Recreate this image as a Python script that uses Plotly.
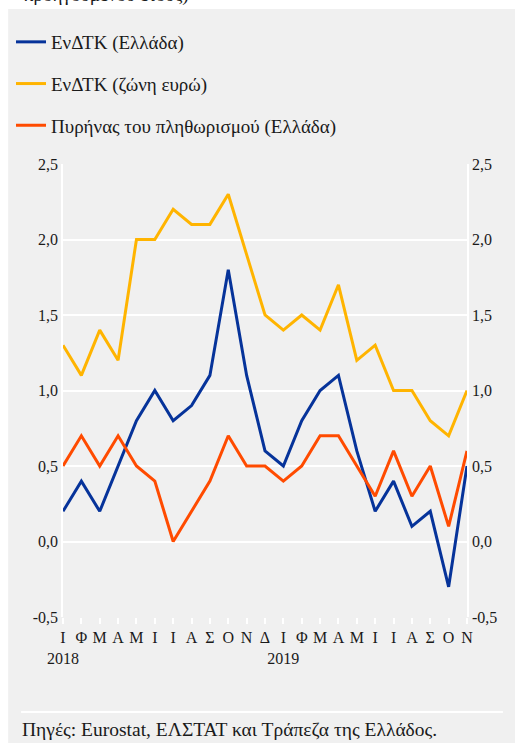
import plotly.graph_objects as go

month_labels = ["Ι", "Φ", "Μ", "Α", "Μ", "Ι", "Ι", "Α", "Σ", "Ο", "Ν", "Δ",
                "Ι", "Φ", "Μ", "Α", "Μ", "Ι", "Ι", "Α", "Σ", "Ο", "Ν"]
year_labels = {0: "2018", 12: "2019"}

hicp_greece = [0.2, 0.4, 0.2, 0.5, 0.8, 1.0, 0.8, 0.9, 1.1, 1.8, 1.1, 0.6,
               0.5, 0.8, 1.0, 1.1, 0.6, 0.2, 0.4, 0.1, 0.2, -0.3, 0.5]
hicp_euro = [1.3, 1.1, 1.4, 1.2, 2.0, 2.0, 2.2, 2.1, 2.1, 2.3, 1.9, 1.5,
             1.4, 1.5, 1.4, 1.7, 1.2, 1.3, 1.0, 1.0, 0.8, 0.7, 1.0]
core_greece = [0.5, 0.7, 0.5, 0.7, 0.5, 0.4, 0.0, 0.2, 0.4, 0.7, 0.5, 0.5,
               0.4, 0.5, 0.7, 0.7, 0.5, 0.3, 0.6, 0.3, 0.5, 0.1, 0.6]

series_names = ["ΕνΔΤΚ (Ελλάδα)", "ΕνΔΤΚ (ζώνη ευρώ)", "Πυρήνας του πληθωρισμού (Ελλάδα)"]
series_colors = ["#06339A", "#FFB400", "#FF4B00"]

y_tickvals = [-0.5, 0.0, 0.5, 1.0, 1.5, 2.0, 2.5]
y_ticktext = ["-0,5", "0,0", "0,5", "1,0", "1,5", "2,0", "2,5"]

x = list(range(len(month_labels)))
x_ticktext = [m + ("<br>" + year_labels[i] if i in year_labels else "") for i, m in enumerate(month_labels)]

FONT = "Liberation Serif, Times New Roman, DejaVu Serif, serif"
GREY = "#F0F0F0"

# plot-area pixel geometry
W, H = 515, 743
L, R, T, B = 62, 48, 164, 126
PW, PH = W - L - R, H - T - B

def xp(px):
    return (px - L) / PW

def yp(py):
    return (H - B - py) / PH

fig = go.Figure()
for name, vals, col in zip(series_names, [hicp_greece, hicp_euro, core_greece], series_colors):
    fig.add_trace(go.Scatter(x=x, y=vals, mode="lines", name=name,
                             line=dict(color=col, width=3), legendgroup=name))

fig.update_layout(
    width=W, height=H,
    margin=dict(l=L, r=R, t=T, b=B, pad=0),
    paper_bgcolor=GREY, plot_bgcolor=GREY,
    font=dict(family=FONT, size=16, color="#1a1a1a"),
    showlegend=True,
    legend=dict(x=xp(11), y=yp(23), xanchor="left", yanchor="top",
                bgcolor="rgba(0,0,0,0)", font=dict(size=19, family=FONT, color="#1a1a1a"),
                traceorder="grouped", tracegroupgap=14),
    xaxis=dict(range=[0, len(month_labels) - 1], tickmode="array", tickvals=x,
               ticktext=x_ticktext, showgrid=False, zeroline=False,
               ticks="outside", ticklen=6, tickwidth=1.5, tickcolor="white",
               showline=False, tickfont=dict(size=16, family=FONT), tickangle=0),
    yaxis=dict(range=[-0.5, 2.5], tickmode="array", tickvals=y_tickvals, ticktext=y_ticktext,
               showgrid=True, gridcolor="white", gridwidth=1.5, zeroline=False,
               showline=True, linecolor="white", linewidth=1.5, ticks="",
               tickfont=dict(size=16, family=FONT)),
    yaxis2=dict(range=[-0.5, 2.5], tickmode="array", tickvals=y_tickvals, ticktext=y_ticktext,
                overlaying="y", side="right", anchor="x", showgrid=False, zeroline=False,
                showline=True, linecolor="white", linewidth=1.5, ticks="",
                tickfont=dict(size=16, family=FONT)),
    shapes=[
        dict(type="rect", xref="paper", yref="paper", x0=xp(-20), x1=xp(W + 20),
             y0=yp(9), y1=yp(-20), fillcolor="white", line=dict(width=0), layer="below"),
        dict(type="rect", xref="paper", yref="paper", x0=xp(-20), x1=xp(7),
             y0=yp(H + 20), y1=yp(-20), fillcolor="white", line=dict(width=0), layer="below"),
        dict(type="line", xref="paper", yref="paper", x0=xp(20), x1=xp(503),
             y0=yp(712), y1=yp(712), line=dict(color="white", width=2)),
    ],
    annotations=[
        dict(text="προηγούμενου έτους)", xref="paper", yref="paper", x=xp(21), y=yp(8),
             xanchor="left", yanchor="bottom", showarrow=False,
             font=dict(size=19, family=FONT, color="#1a1a1a")),
        dict(text="Πηγές: Eurostat, ΕΛΣΤΑΤ και Τράπεζα της Ελλάδος.", xref="paper", yref="paper",
             x=xp(19), y=yp(729), xanchor="left", yanchor="middle", showarrow=False,
             font=dict(size=19.5, family=FONT, color="#1a1a1a")),
    ],
)
# invisible helper so the right axis is drawn
fig.add_trace(go.Scatter(x=[x[0]], y=[hicp_greece[0]], yaxis="y2", mode="lines",
                         showlegend=False, hoverinfo="skip", line=dict(width=0)))

fig.write_html("out.html", config={"displayModeBar": False},
               post_script="document.body.style.margin='0';")
